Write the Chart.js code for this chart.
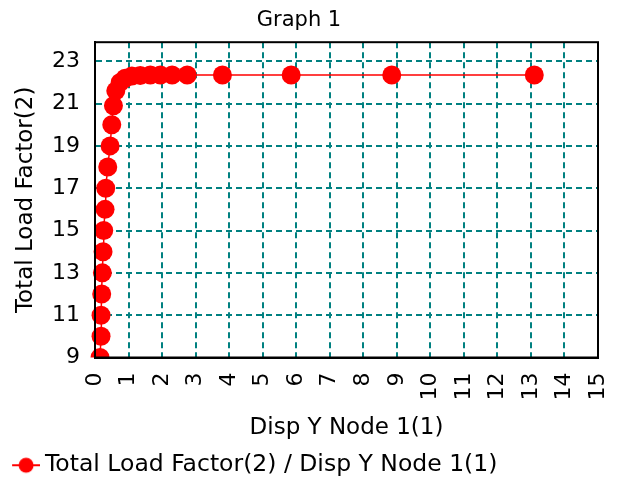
<!DOCTYPE html>
<html lang="en">
  <head>
    <meta charset="UTF-8" />
    <title>Graph 1</title>
    <script src="https://cdn.jsdelivr.net/npm/chart.js@4.4.0/dist/chart.umd.min.js"></script>
    <style>
      html, body { margin: 0; padding: 0; background: #fff; }
      #wrap { width: 617px; height: 480px; }
    </style>
  </head>
  <body>
    <div id="wrap"><canvas id="Graph" width="617" height="480"></canvas></div>

    <script>
      // displacement (x) and load factor (y)
      const disp = [0.15, 0.18, 0.18, 0.2, 0.22, 0.24, 0.26, 0.3, 0.32, 0.38, 0.45, 0.5,
                    0.55, 0.62, 0.75, 0.9, 1.1, 1.35, 1.65, 1.95, 2.3, 2.75, 3.8, 5.85, 8.85, 13.1];
      const load = [9, 10, 11, 12, 13, 14, 15, 16, 17, 18, 19, 20,
                    20.9, 21.6, 22.0, 22.2, 22.3, 22.33, 22.35, 22.35, 22.35, 22.35, 22.35, 22.35, 22.35, 22.35];
      const yTicks = [9, 11, 13, 15, 17, 19, 21, 23];
      const xTicks = [0, 1, 2, 3, 4, 5, 6, 7, 8, 9, 10, 11, 12, 13, 14, 15];

      const FONT = 'DejaVu Sans, Verdana, sans-serif';

      // little line + dot for the legend (drawn off-centre on purpose)
      const legendIcon = document.createElement('canvas');
      legendIcon.width = 45;
      legendIcon.height = 20;
      (function () {
        const c = legendIcon.getContext('2d');
        c.strokeStyle = '#ff0000';
        c.lineWidth = 2;
        c.beginPath();
        c.moveTo(17, 10);
        c.lineTo(45, 10);
        c.stroke();
        c.fillStyle = '#ff0000';
        c.beginPath();
        c.arc(31, 10, 7.5, 0, Math.PI * 2);
        c.fill();
      })();

      const frame = {
        id: 'frame',
        afterDatasetsDraw(chart) {
          const a = chart.chartArea;
          const ctx = chart.ctx;
          ctx.save();
          ctx.strokeStyle = '#000';
          ctx.lineWidth = 2;
          ctx.strokeRect(a.left, a.top, a.right - a.left, a.bottom - a.top);
          ctx.restore();
        }
      };

      const points = disp.map((d, i) => ({ x: d, y: load[i] }));

      new Chart(document.getElementById('Graph'), {
        type: 'line',
        data: {
          datasets: [
            {
              label: 'Total Load Factor(2) / Disp Y Node 1(1)',
              data: points,
              borderColor: '#ff0000',
              backgroundColor: '#ff0000',
              borderWidth: 1.5,
              pointRadius: 9.5,
              pointHoverRadius: 9.5,
              pointBorderWidth: 0,
              fill: false,
              tension: 0,
              clip: { left: 8, top: 0, right: 0, bottom: 0 }
            }
          ]
        },
        options: {
          responsive: false,
          animation: false,
          events: [],
          layout: { padding: { left: 0, right: 19, top: 0, bottom: -7 } },
          plugins: {
            title: {
              display: true,
              text: 'Graph 1',
              color: '#000',
              font: { family: FONT, size: 21, weight: 'normal', lineHeight: 1.2 },
              padding: { top: 8, bottom: 9 }
            },
            legend: {
              position: 'bottom',
              align: 'start',
              labels: {
                color: '#000',
                font: { family: FONT, size: 23.5, lineHeight: 1 },
                usePointStyle: true,
                pointStyleWidth: 31.25,
                padding: 2,
                generateLabels: chart => [{
                  text: chart.data.datasets[0].label,
                  pointStyle: legendIcon,
                  fillStyle: '#ff0000',
                  strokeStyle: '#ff0000',
                  lineWidth: 0,
                  datasetIndex: 0
                }]
              }
            },
            tooltip: { enabled: false }
          },
          scales: {
            x: {
              type: 'linear',
              min: 0,
              max: 15,
              afterBuildTicks: s => { s.ticks = xTicks.map(v => ({ value: v })); },
              afterFit: s => { s.height = 94; s.paddingLeft = 0; s.paddingRight = 0; },
              ticks: {
                color: '#000',
                font: { family: FONT, size: 22 },
                minRotation: 90,
                maxRotation: 90,
                padding: 15
              },
              grid: { color: '#008080', lineWidth: 2, drawTicks: false },
              border: { color: '#000', width: 2, dash: [6, 4] },
              title: {
                display: true,
                text: 'Disp Y Node 1(1)',
                color: '#000',
                font: { family: FONT, size: 23 },
                padding: { top: 4, bottom: 10 }
              }
            },
            y: {
              type: 'linear',
              min: 9,
              max: 23.9,
              afterBuildTicks: s => { s.ticks = yTicks.map(v => ({ value: v })); },
              afterFit: s => { s.width = 95; },
              ticks: {
                color: '#000',
                font: { family: FONT, size: 22 },
                padding: 15
              },
              grid: { color: '#008080', lineWidth: 2, drawTicks: false },
              border: { color: '#000', width: 2, dash: [6, 4] },
              title: {
                display: true,
                text: 'Total Load Factor(2)',
                color: '#000',
                font: { family: FONT, size: 23 },
                padding: { top: 12, bottom: 4 }
              }
            }
          }
        },
        plugins: [frame]
      });
    </script>
  </body>
</html>
